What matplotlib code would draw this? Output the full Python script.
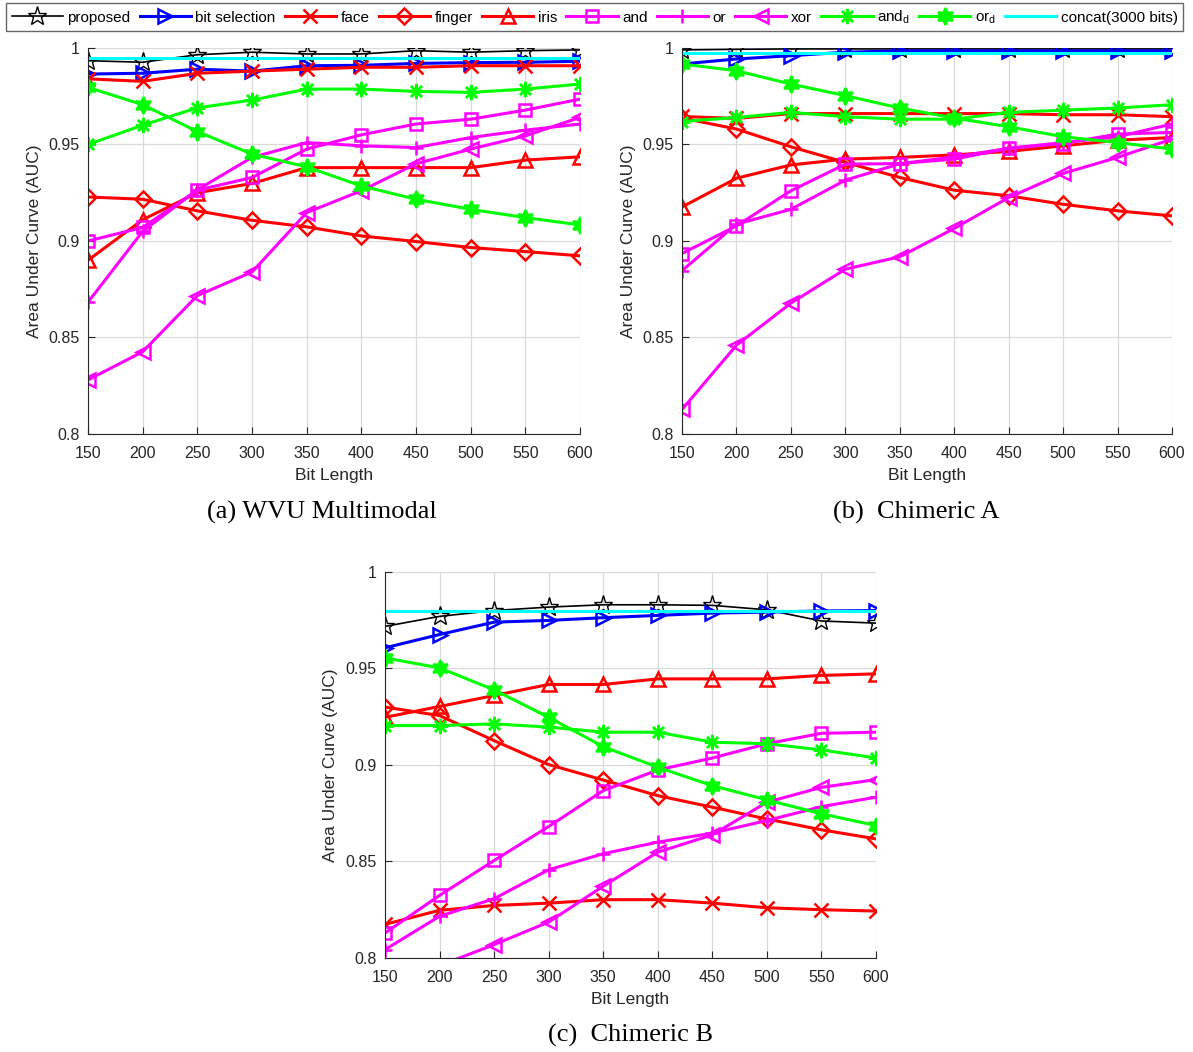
import matplotlib.pyplot as plt

# eje x comun
bit_length = [150, 200, 250, 300, 350, 400, 450, 500, 550, 600]
y_ticks = [0.8, 0.85, 0.9, 0.95, 1]
y_tick_labels = ['0.8', '0.85', '0.9', '0.95', '1']

metodos = ['proposed', 'bit selection', 'face', 'finger', 'iris', 'and', 'or', 'xor',
           'and$_\\mathregular{d}$', 'or$_\\mathregular{d}$', 'concat(3000 bits)']
colores = ['black', 'blue', 'red', 'red', 'red', 'magenta', 'magenta', 'magenta',
           '#00ff00', '#00ff00', 'cyan']
marcadores = ['*', '>', 'x', 'D', '^', 's', '+', '<', (8, 2, 0), (6, 1, 0), None]

# (a) WVU Multimodal
wvu_proposed = [0.9934, 0.9926, 0.9965, 0.9978, 0.9969, 0.9969, 0.9986, 0.9978, 0.9986, 0.999]
wvu_bitsel = [0.9865, 0.9869, 0.989, 0.988, 0.9908, 0.991, 0.992, 0.9924, 0.9926, 0.9931]
wvu_face = [0.984, 0.9827, 0.9869, 0.988, 0.989, 0.990, 0.990, 0.9908, 0.9908, 0.9908]
wvu_finger = [0.9228, 0.9216, 0.9156, 0.9107, 0.9073, 0.9026, 0.8997, 0.8966, 0.8945, 0.8923]
wvu_iris = [0.890, 0.911, 0.925, 0.9298, 0.938, 0.938, 0.938, 0.938, 0.9419, 0.9436]
wvu_and = [0.900, 0.907, 0.9263, 0.9329, 0.9476, 0.955, 0.9606, 0.9631, 0.9678, 0.9735]
wvu_or = [0.8683, 0.905, 0.9265, 0.9433, 0.951, 0.9493, 0.9484, 0.9536, 0.9574, 0.9606]
wvu_xor = [0.828, 0.8426, 0.8717, 0.8839, 0.9147, 0.926, 0.940, 0.9476, 0.9545, 0.964]
wvu_and_d = [0.950, 0.960, 0.969, 0.973, 0.9787, 0.9787, 0.9775, 0.977, 0.9787, 0.9813]
wvu_or_d = [0.9796, 0.9706, 0.9567, 0.945, 0.9384, 0.9285, 0.9216, 0.9164, 0.9121, 0.9083]
wvu_concat = [0.9948] * 10

# (b) Chimeric A
chA_proposed = [0.999, 0.9993, 0.9995, 0.9995, 0.9995, 0.9995, 0.9995, 0.9995, 0.9995, 0.9995]
chA_bitsel = [0.9917, 0.9943, 0.996, 0.9978, 0.9985, 0.9985, 0.9985, 0.9985, 0.9985, 0.9985]
chA_face = [0.9645, 0.9635, 0.966, 0.966, 0.966, 0.966, 0.966, 0.9654, 0.9654, 0.9644]
chA_finger = [0.9637, 0.958, 0.9488, 0.9407, 0.9329, 0.9263, 0.9234, 0.919, 0.9156, 0.913]
chA_iris = [0.9176, 0.9325, 0.9394, 0.9424, 0.9433, 0.9446, 0.9464, 0.9493, 0.9522, 0.9536]
chA_and = [0.8935, 0.9078, 0.926, 0.9398, 0.9401, 0.9424, 0.948, 0.9505, 0.9554, 0.9562]
chA_or = [0.8846, 0.9087, 0.9164, 0.9315, 0.940, 0.9436, 0.948, 0.951, 0.954, 0.9606]
chA_xor = [0.8127, 0.846, 0.8678, 0.8854, 0.8918, 0.9065, 0.9225, 0.935, 0.9433, 0.9528]
chA_and_d = [0.9619, 0.964, 0.9666, 0.9644, 0.9631, 0.9631, 0.9666, 0.9678, 0.9689, 0.9706]
chA_or_d = [0.9917, 0.9882, 0.9813, 0.9753, 0.9689, 0.9637, 0.9592, 0.954, 0.951, 0.9476]
chA_concat = [0.9972] * 10

# (c) Chimeric B
chB_proposed = [0.9718, 0.977, 0.980, 0.9818, 0.983, 0.983, 0.9827, 0.9804, 0.9746, 0.9735]
chB_bitsel = [0.9607, 0.9676, 0.974, 0.9749, 0.9763, 0.9775, 0.9787, 0.9792, 0.9798, 0.980]
chB_face = [0.8174, 0.8247, 0.8272, 0.8284, 0.8302, 0.8302, 0.8284, 0.826, 0.825, 0.8243]
chB_finger = [0.930, 0.9256, 0.9126, 0.9002, 0.8922, 0.8841, 0.8781, 0.872, 0.8664, 0.8617]
chB_iris = [0.9247, 0.9303, 0.936, 0.9417, 0.9417, 0.9446, 0.9446, 0.9446, 0.9464, 0.9472]
chB_and = [0.8129, 0.8324, 0.8505, 0.8681, 0.8867, 0.8974, 0.9036, 0.911, 0.9164, 0.917]
chB_or = [0.8043, 0.8216, 0.8307, 0.8457, 0.854, 0.860, 0.8647, 0.8712, 0.8784, 0.8833]
chB_xor = [0.785, 0.796, 0.8069, 0.8186, 0.8372, 0.8548, 0.8638, 0.8807, 0.8884, 0.8924]
chB_and_d = [0.9204, 0.9204, 0.9213, 0.9196, 0.917, 0.917, 0.9118, 0.911, 0.9078, 0.9036]
chB_or_d = [0.9555, 0.9503, 0.9389, 0.9247, 0.9095, 0.8988, 0.8893, 0.8819, 0.8747, 0.8686]
chB_concat = [0.9796] * 10

panel_a = [wvu_proposed, wvu_bitsel, wvu_face, wvu_finger, wvu_iris, wvu_and,
           wvu_or, wvu_xor, wvu_and_d, wvu_or_d, wvu_concat]
panel_b = [chA_proposed, chA_bitsel, chA_face, chA_finger, chA_iris, chA_and,
           chA_or, chA_xor, chA_and_d, chA_or_d, chA_concat]
panel_c = [chB_proposed, chB_bitsel, chB_face, chB_finger, chB_iris, chB_and,
           chB_or, chB_xor, chB_and_d, chB_or_d, chB_concat]

plt.rcParams['font.family'] = ['Liberation Sans', 'DejaVu Sans']
plt.rcParams['mathtext.fontset'] = 'custom'
plt.rcParams['mathtext.rm'] = 'Liberation Sans'
plt.rcParams['mathtext.it'] = 'Liberation Sans'

fig = plt.figure(figsize=(11.93, 10.52), dpi=100)
texto = '#262626'


def dibujar(ax, series):
    lineas = []
    for serie, nombre, color, marca in zip(series, metodos, colores, marcadores):
        lw = 1.2 if color == 'black' else 2.2
        ms = 10
        if marca == 's':
            ms = 8
        elif marca == 'D':
            ms = 8
        elif marca == '*':
            ms = 14
        elif marca == (6, 1, 0):
            ms = 12
        elif marca == (8, 2, 0):
            ms = 11
        mfc = 'none'
        if marca == (6, 1, 0):
            mfc = color
        ln, = ax.plot(bit_length, serie, color=color, lw=lw, marker=marca,
                      markersize=ms, markerfacecolor=mfc, markeredgecolor=color,
                      markeredgewidth=1.8 if color != 'black' else 1.0, label=nombre)
        lineas.append(ln)
    ax.set_xlim(150, 600)
    ax.set_ylim(0.8, 1)
    ax.set_xticks(bit_length)
    ax.set_yticks(y_ticks)
    ax.set_yticklabels(y_tick_labels)
    ax.grid(True, color='#d9d9d9', lw=0.9)
    ax.set_axisbelow(True)
    ax.spines['top'].set_visible(False)
    ax.spines['right'].set_visible(False)
    ax.spines['left'].set_color(texto)
    ax.spines['bottom'].set_color(texto)
    ax.tick_params(direction='in', length=5, labelsize=11.5, colors=texto)
    ax.tick_params(axis='x', pad=9)
    ax.tick_params(axis='y', pad=6)
    ax.set_xlabel('Bit Length', fontsize=12.5, color=texto, labelpad=5)
    ax.set_ylabel('Area Under Curve (AUC)', fontsize=12.5, color=texto, labelpad=5)
    return lineas


ax_a = fig.add_axes([0.0738, 0.5875, 0.4124, 0.3669])
ax_b = fig.add_axes([0.5717, 0.5875, 0.4107, 0.3669])
ax_c = fig.add_axes([0.3227, 0.0894, 0.4116, 0.3669])

lineas = dibujar(ax_a, panel_a)
dibujar(ax_b, panel_b)
dibujar(ax_c, panel_c)

fig.text(322 / 1193, 1 - 512 / 1052, '(a) WVU Multimodal', ha='center', va='center',
         fontsize=19, family='Liberation Serif')
fig.text(916 / 1193, 1 - 512 / 1052, '(b)  Chimeric A', ha='center', va='center',
         fontsize=19, family='Liberation Serif')
fig.text(631 / 1193, 1 - 1035 / 1052, '(c)  Chimeric B', ha='center', va='center',
         fontsize=19, family='Liberation Serif')

leg = fig.legend(handles=lineas, labels=metodos, loc='upper center',
                 bbox_to_anchor=(0.4985, 0.997), ncol=11, fontsize=11,
                 frameon=True, fancybox=False, edgecolor='#404040',
                 handlelength=3.35, columnspacing=0.6, handletextpad=0.3,
                 borderpad=0.35, borderaxespad=0)
leg.get_frame().set_linewidth(1.0)

fig.savefig('out.png', dpi=100)
